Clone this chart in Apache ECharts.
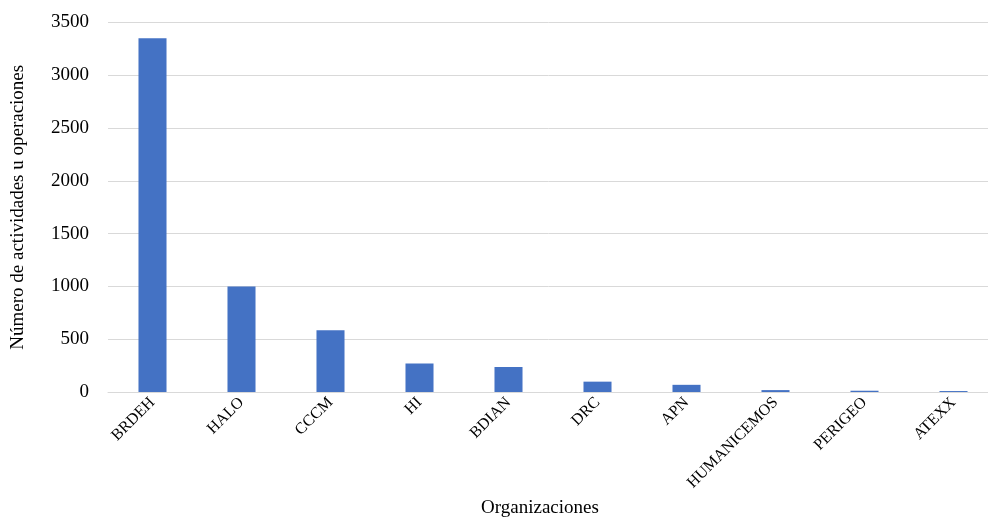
<!DOCTYPE html>
<html>
<head>
<meta charset="utf-8">
<script src="https://cdn.jsdelivr.net/npm/echarts@6/dist/echarts.min.js"></script>
<style>
html,body{margin:0;padding:0;background:#fff;}
#chart{width:988px;height:518px;}
</style>
</head>
<body>
<div id="chart"></div>
<script>
const categories = ["BRDEH", "HALO", "CCCM", "HI", "BDIAN", "DRC", "APN", "HUMANICEMOS", "PERIGEO", "ATEXX"];
const values = [3350, 1000, 585, 270, 237, 98, 68, 18, 12, 9];
const yTicks = { min: 0, max: 3500, interval: 500 };
const xTitle = "Organizaciones";
const yTitle = "Número de actividades u operaciones";

const font = "'Liberation Serif', 'Times New Roman', serif";
const chart = echarts.init(document.getElementById('chart'), null, { renderer: 'canvas' });
chart.setOption({
  animation: false,
  backgroundColor: '#ffffff',
  grid: { left: 108, top: 22.5, width: 890, height: 369.5, containLabel: false, outerBoundsMode: 'none' },
  xAxis: {
    type: 'category',
    data: categories,
    name: xTitle,
    nameLocation: 'middle',
    nameGap: 104,
    nameTextStyle: { fontFamily: font, fontSize: 19, color: '#000', padding: [0, 26, 0, 0] },
    axisLine: { lineStyle: { color: '#d9d9d9', width: 1 } },
    axisTick: { show: false },
    axisLabel: { rotate: 45, margin: 8, fontFamily: font, fontSize: 16, color: '#000', interval: 0 },
    splitLine: { show: false }
  },
  yAxis: {
    type: 'value',
    min: yTicks.min, max: yTicks.max, interval: yTicks.interval,
    name: yTitle,
    nameLocation: 'middle',
    nameGap: 80,
    nameRotate: 90,
    nameTextStyle: { fontFamily: font, fontSize: 19, color: '#000' },
    axisLine: { show: false },
    axisTick: { show: false },
    axisLabel: { margin: 19, fontFamily: font, fontSize: 19, color: '#000', formatter: function (v) { return String(v); } },
    splitLine: { lineStyle: { color: '#d9d9d9', width: 1 } }
  },
  series: [{
    type: 'bar',
    data: values,
    barWidth: '31.5%',
    itemStyle: { color: '#4472C4' }
  }]
});
</script>
</body>
</html>
